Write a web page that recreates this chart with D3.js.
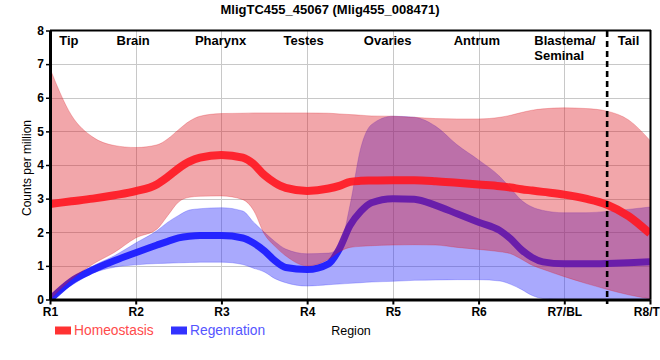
<!DOCTYPE html>
<html>
<head>
<meta charset="utf-8">
<script src="https://cdn.jsdelivr.net/npm/d3@7"></script>
<style>
  html, body { margin: 0; padding: 0; background: #fff; }
  svg { display: block; font-family: "Liberation Sans", Arial, sans-serif; }
</style>
</head>
<body>
<svg id="chart" width="660" height="360"></svg>
<script>
// ---------- data ----------
const title = "MligTC455_45067 (Mlig455_008471)";
const regions = ["R1", "R2", "R3", "R4", "R5", "R6", "R7/BL", "R8/TL"];
const regionNames = ["Tip", "Brain", "Pharynx", "Testes", "Ovaries", "Antrum", "Blastema/\nSeminal", "Tail"];
const yTicks = [0, 1, 2, 3, 4, 5, 6, 7, 8];
const positions = [1, 1.25, 1.5, 1.75, 2, 2.25, 2.375, 2.5, 2.625, 2.75, 3, 3.25, 3.375, 3.5, 3.625,
                   3.75, 4, 4.25, 4.375, 4.5, 4.625, 4.75, 5, 5.25, 5.5, 5.75, 6, 6.25, 6.375, 6.5,
                   6.625, 6.75, 7, 7.25, 7.5, 7.75, 8];
const homeoMean = [2.84, 2.92, 3.0, 3.1, 3.22, 3.43, 3.65, 3.9, 4.1, 4.22, 4.3, 4.22, 4.03, 3.7, 3.47,
                   3.32, 3.23, 3.3, 3.38, 3.5, 3.53, 3.54, 3.55, 3.55, 3.52, 3.47, 3.42, 3.37, 3.33, 3.28,
                   3.24, 3.2, 3.12, 3.0, 2.82, 2.48, 1.96];
const homeoLow  = [0, 0.6, 1.05, 1.4, 1.83, 2.1, 2.5, 2.9, 3.04, 3.07, 3.08, 2.97, 2.65, 1.95, 1.58,
                   1.3, 1.0, 1.2, 1.42, 1.55, 1.58, 1.6, 1.62, 1.63, 1.62, 1.55, 1.49, 1.42, 1.36, 1.2,
                   1.02, 0.9, 0.68, 0.48, 0.3, 0.14, 0.02];
const homeoHigh = [6.87, 5.48, 4.83, 4.58, 4.52, 4.6, 4.78, 5.05, 5.3, 5.45, 5.53, 5.54, 5.55, 5.55, 5.55,
                   5.55, 5.55, 5.54, 5.52, 5.5, 5.48, 5.46, 5.45, 5.42, 5.38, 5.37, 5.37, 5.42, 5.48, 5.56,
                   5.63, 5.67, 5.7, 5.68, 5.6, 5.34, 4.73];
const regenMean = [0, 0.55, 0.88, 1.15, 1.39, 1.62, 1.73, 1.83, 1.88, 1.9, 1.9, 1.83, 1.68, 1.45, 1.15,
                   0.95, 0.89, 1.06, 1.5, 2.2, 2.62, 2.88, 3.0, 2.98, 2.8, 2.55, 2.3, 2.05, 1.8, 1.48,
                   1.25, 1.12, 1.06, 1.06, 1.07, 1.09, 1.12];
const regenLow  = [0, 0.42, 0.78, 0.96, 1.03, 1.07, 1.08, 1.09, 1.1, 1.11, 1.11, 1.04, 0.93, 0.82, 0.62,
                   0.5, 0.4, 0.44, 0.46, 0.48, 0.5, 0.52, 0.54, 0.57, 0.58, 0.59, 0.59, 0.55, 0.45, 0.3,
                   0.12, 0.03, 0, 0, 0, 0, 0];
const regenHigh = [0, 0.62, 1.0, 1.3, 1.68, 2.05, 2.3, 2.5, 2.66, 2.7, 2.73, 2.63, 2.3, 2.0, 1.72,
                   1.5, 1.36, 1.38, 1.55, 2.8, 4.5, 5.2, 5.45, 5.42, 5.15, 4.6, 4.15, 3.65, 3.3, 2.95,
                   2.75, 2.65, 2.58, 2.58, 2.62, 2.68, 2.75];
const seriesNames = ["Homeostasis", "Regenration"];
const dividerAt = 7.5;

// ---------- layout ----------
const svg = d3.select("#chart");
const x = d3.scaleLinear().domain([1, 8]).range([50, 650]);
const y = d3.scaleLinear().domain([0, 8]).range([299.5, 30.5]);
const regionLabelPos = [1.22, 1.97, 2.99, 3.96, 4.94, 5.98, 6.65, 7.75];

svg.append("rect").attr("width", 660).attr("height", 360).attr("fill", "#fff");

svg.append("defs").append("clipPath").attr("id", "plot")
  .append("rect").attr("x", x(1)).attr("y", y(8)).attr("width", x(8) - x(1)).attr("height", y(0) - y(8));

// grid
const grid = svg.append("g").attr("stroke", "#c8c8c8").attr("stroke-width", 1);
grid.selectAll("line.h").data(yTicks.slice(1, -1)).join("line")
  .attr("x1", x(1)).attr("x2", x(8)).attr("y1", d => Math.round(y(d)) + 0.5).attr("y2", d => Math.round(y(d)) + 0.5);
grid.selectAll("line.v").data(d3.range(2, 8)).join("line")
  .attr("y1", y(0)).attr("y2", y(8)).attr("x1", d => Math.round(x(d)) + 0.5).attr("x2", d => Math.round(x(d)) + 0.5);

const pts = (arr) => positions.map((p, i) => [p, arr[i]]);
const curve = d3.curveMonotoneX;
const area = (lo, hi) => d3.area().curve(curve)
  .x((d, i) => x(positions[i])).y0((d, i) => y(lo[i])).y1((d, i) => y(hi[i]))(positions);
const line = d3.line().curve(curve).x(d => x(d[0])).y(d => y(d[1]));

const plot = svg.append("g").attr("clip-path", "url(#plot)");

// regeneration band + line
plot.append("path").attr("d", area(regenLow, regenHigh))
  .attr("fill", "rgb(40,40,250)").attr("fill-opacity", 0.4)
  .attr("stroke", "rgb(40,40,250)").attr("stroke-opacity", 0.25).attr("stroke-width", 1);
plot.append("path").attr("d", line(pts(regenMean)))
  .attr("fill", "none").attr("stroke", "rgb(25,25,255)").attr("stroke-opacity", 0.92)
  .attr("stroke-width", 7).attr("stroke-linecap", "round").attr("stroke-linejoin", "round");

// homeostasis band + line
plot.append("path").attr("d", area(homeoLow, homeoHigh))
  .attr("fill", "rgb(222,22,32)").attr("fill-opacity", 0.38)
  .attr("stroke", "rgb(222,22,32)").attr("stroke-opacity", 0.25).attr("stroke-width", 1);
plot.append("path").attr("d", line(pts(homeoMean)))
  .attr("fill", "none").attr("stroke", "rgb(255,22,32)").attr("stroke-opacity", 0.9)
  .attr("stroke-width", 8).attr("stroke-linecap", "butt").attr("stroke-linejoin", "round");

// frame (top + right thin)
svg.append("line").attr("x1", x(1)).attr("x2", x(8) + 1).attr("y1", 30.5).attr("y2", 30.5)
  .attr("stroke", "#000").attr("stroke-width", 2);
svg.append("line").attr("x1", x(8) + 0.5).attr("x2", x(8) + 0.5).attr("y1", 30).attr("y2", y(0))
  .attr("stroke", "#000").attr("stroke-width", 2);

// divider
svg.append("line").attr("x1", x(dividerAt)).attr("x2", x(dividerAt)).attr("y1", 31).attr("y2", 304)
  .attr("stroke", "#000").attr("stroke-width", 2.6).attr("stroke-dasharray", "6,4");

// axes
const xAxis = svg.append("g").attr("transform", `translate(0,${y(0)})`)
  .call(d3.axisBottom(x).tickValues(d3.range(1, 9)).tickFormat(d => regions[d - 1]).tickSize(5).tickSizeOuter(0));
xAxis.select(".domain").attr("stroke-width", 3);
xAxis.selectAll(".tick line").attr("stroke-width", 2);
xAxis.selectAll("text").attr("font-size", 12).attr("font-weight", "bold").attr("fill", "#000")
  .attr("font-family", "Liberation Sans, Arial, sans-serif");

const yAxis = svg.append("g").attr("transform", `translate(${x(1)},0)`)
  .call(d3.axisLeft(y).tickValues(yTicks).tickSize(4).tickPadding(2).tickSizeOuter(0));
yAxis.select(".domain").attr("stroke-width", 3);
yAxis.selectAll(".tick line").attr("stroke-width", 1.5);
yAxis.selectAll("text").attr("font-size", 12).attr("font-weight", "bold").attr("fill", "#000")
  .attr("font-family", "Liberation Sans, Arial, sans-serif");

// region names
const rl = svg.append("g").attr("font-size", 13).attr("font-weight", "bold").attr("fill", "#000");
regionNames.forEach((name, i) => {
  const lines = name.split("\n");
  const t = rl.append("text")
    .attr("x", x(regionLabelPos[i])).attr("y", 44.5)
    .attr("text-anchor", lines.length > 1 ? "start" : "middle");
  lines.forEach((ln, j) => {
    t.append("tspan").attr("x", x(regionLabelPos[i])).attr("dy", j === 0 ? 0 : 15).text(ln);
  });
});

// title
svg.append("text").attr("x", 330).attr("y", 13.5).attr("text-anchor", "middle")
  .attr("font-size", 13).attr("font-weight", "bold").text(title);

// y label
svg.append("text").attr("transform", "translate(31,168) rotate(-90)").attr("text-anchor", "middle")
  .attr("font-size", 12).text("Counts per million");

// x label
svg.append("text").attr("x", 351).attr("y", 335).attr("text-anchor", "middle")
  .attr("font-size", 12.5).text("Region");

// legend
const legendColors = [["rgb(255,50,50)", "rgb(255,75,75)"], ["rgb(50,50,255)", "rgb(85,85,255)"]];
const legendX = [55, 171];
seriesNames.forEach((s, i) => {
  svg.append("rect").attr("x", legendX[i]).attr("y", 326.5).attr("width", 16).attr("height", 8)
    .attr("fill", legendColors[i][0]);
  svg.append("text").attr("x", legendX[i] + 19).attr("y", 335).attr("font-size", 13.8)
    .attr("fill", legendColors[i][1]).text(s);
});
</script>
</body>
</html>
